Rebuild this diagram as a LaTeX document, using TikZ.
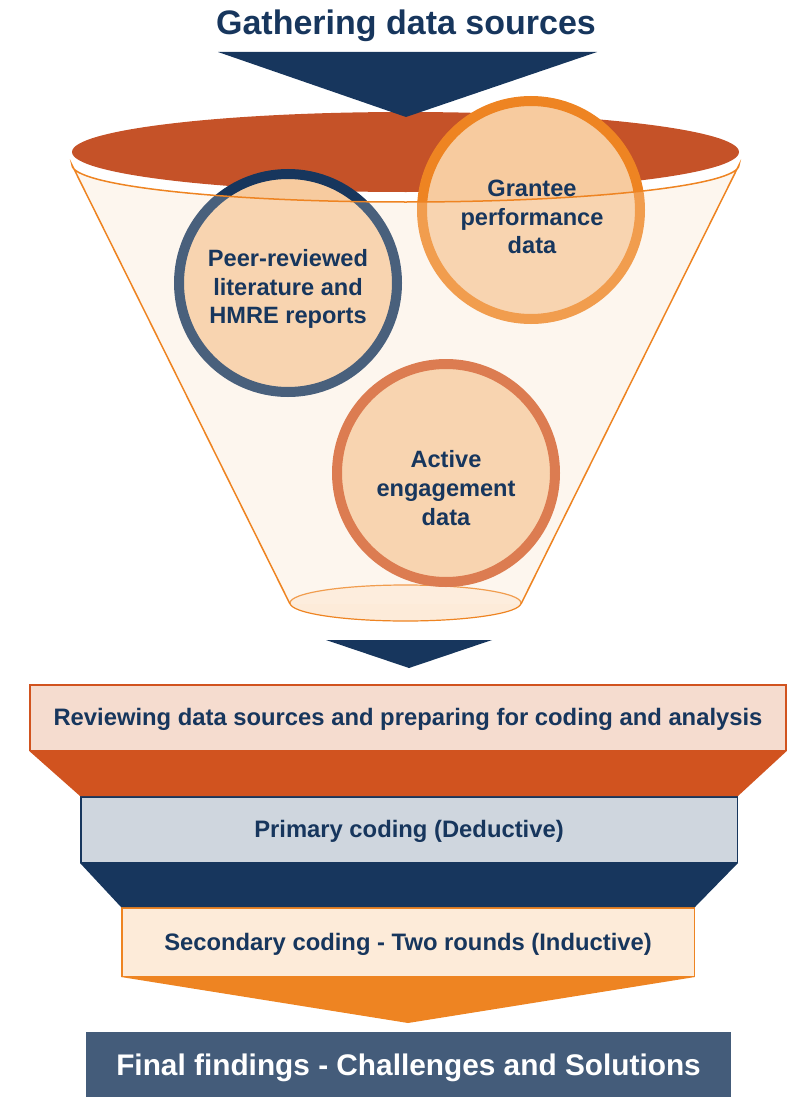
\documentclass[tikz,border=0pt]{standalone}
\usepackage{fontspec}
\setmainfont{Liberation Sans}

\definecolor{fnavy}{HTML}{17365D}
\definecolor{frust}{HTML}{C55228}
\definecolor{fred}{HTML}{D1531F}
\definecolor{forange}{HTML}{EE8422}
\definecolor{fterra}{HTML}{D35A25}
\definecolor{fpeach}{HTML}{F7CB9F}
\definecolor{fcream}{HTML}{FDF6EE}
\definecolor{fbase}{HTML}{FDEBD9}
\definecolor{fpink}{HTML}{F5DCCF}
\definecolor{fgrey}{HTML}{CFD6DE}
\definecolor{fslate}{HTML}{445C7A}

\begin{document}
\begin{tikzpicture}[x=1pt, y=-1pt,
        srctext/.style={font=\bfseries\fontsize{23.6}{28.8}\selectfont, text=fnavy, align=center},
        source/.style={circle, draw=#1, line width=10pt, fill=fpeach, minimum size=218pt, inner sep=0pt},
        stage/.style={draw=#1, line width=1.5pt, inner sep=0pt, font=\bfseries\fontsize{23.8}{28}\selectfont, text=fnavy}
    ]
        \useasboundingbox (0,0) rectangle (801,1097);

        % title
        \node[font=\bfseries\fontsize{34}{40}\selectfont, text=fnavy] (title) at (406,26) {Gathering data sources};

        % funnel body, bottom and mouth
        \fill [fcream] (72,165) arc[start angle=180, end angle=0, x radius=333.5, y radius=37] -- (521,604) -- (290,604) -- cycle;
        \filldraw [fill=fbase, draw=forange, line width=1.2pt] (405.5,603) ellipse (115.5 and 18);
        \fill [frust] (405.5,152) ellipse (333.5 and 40);

        % arrow into the funnel
        \coordinate (tip1) at (406,117);
        \fill [fnavy] (218,52) -- (597,52) -- (tip1) -- cycle;

        % the three sources
        \node[source=fnavy] (peer) at (288,283) {};
        \node[source=forange] (grantee) at (531,210) {};
        \node[source=fterra] (active) at (446,473) {};

        % see-through front of the funnel
        \fill [fcream, opacity=0.22] (72,165) arc[start angle=180, end angle=0, x radius=333.5, y radius=37] -- (521,604) -- (290,604) -- cycle;
        \draw [forange, line width=1.5pt] (290,604) -- (72,165) arc[start angle=180, end angle=0, x radius=333.5, y radius=37] -- (521,604);

        \node[srctext] (peertext) at (288,289) {Peer-reviewed\\literature and\\HMRE reports};
        \node[srctext] (granteetext) at (532,217) {Grantee\\performance\\data};
        \node[srctext] (activetext) at (446,488) {Active\\engagement\\data};

        % arrow out of the funnel
        \coordinate (tip2) at (409,668);
        \fill [fnavy] (326,640) -- (492,640) -- (tip2) -- cycle;

        % analysis stages
        \node[stage=fred, fill=fpink, minimum width=756pt, minimum height=65.5pt, text depth=1pt] (review) at (408,717.5) {Reviewing data sources and preparing for coding and analysis};
        \node[stage=fnavy, fill=fgrey, minimum width=656.5pt, minimum height=65.5pt, text depth=1pt] (primary) at (409,829.5) {Primary coding (Deductive)};
        \node[stage=forange, fill=fbase, minimum width=572.5pt, minimum height=68.5pt, text depth=1pt] (secondary) at (408,942) {Secondary coding - Two rounds (Inductive)};
        \coordinate (tip3) at (408,1023);
        \node[fill=fslate, minimum width=645pt, minimum height=65pt, inner sep=0pt, text=white, text depth=0pt, font=\bfseries\fontsize{29.8}{34}\selectfont] (final) at (408.5,1064.5) {Final findings - Challenges and Solutions};

        \fill [fred] (review.south west) -- (review.south east) -- (primary.north east) -- (primary.north west) -- cycle;
        \fill [fnavy] (primary.south west) -- (primary.south east) -- (secondary.north east) -- (secondary.north west) -- cycle;
        \fill [forange] (secondary.south west) -- (secondary.south east) -- (tip3) -- cycle;
    \end{tikzpicture}
\end{document}
